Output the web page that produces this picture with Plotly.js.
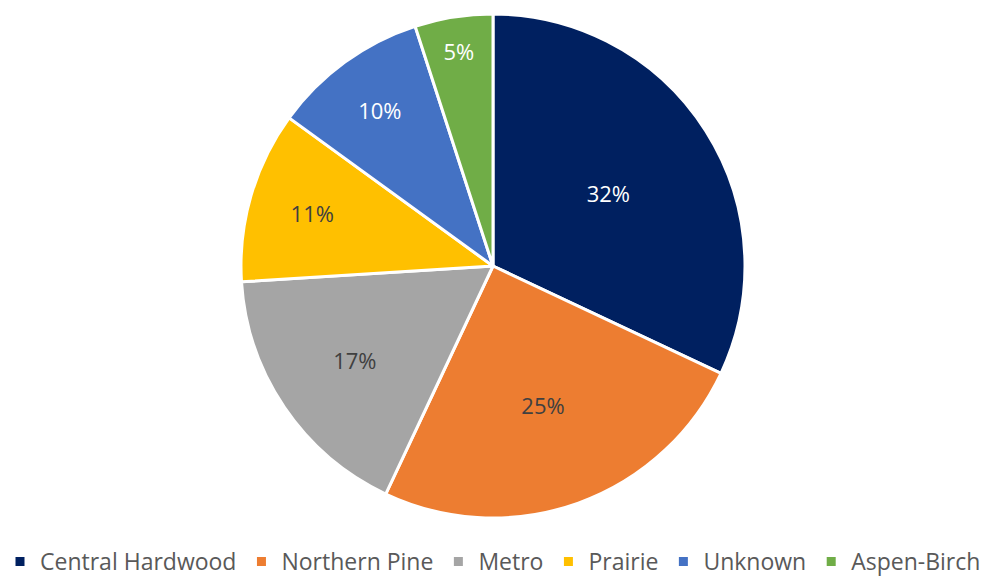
<!DOCTYPE html>
<html>
<head>
<meta charset="utf-8">
<script src="https://cdn.plot.ly/plotly-3.0.1.min.js"></script>
<style>html,body{margin:0;padding:0;background:#fff;overflow:hidden;}#chart{width:990px;height:583px;}</style>
</head>
<body>
<div id="chart"></div>
<script>
const categories = ["Central Hardwood", "Northern Pine", "Metro", "Prairie", "Unknown", "Aspen-Birch"];
const shares = [32, 25, 17, 11, 10, 5];
const sliceColors = ["#002060", "#ED7D31", "#A5A5A5", "#FFC000", "#4472C4", "#70AD47"];
const labelColors = ["#FFFFFF", "#404040", "#404040", "#404040", "#FFFFFF", "#FFFFFF"];

const trace = {
  type: "pie",
  labels: categories,
  values: shares,
  sort: false,
  direction: "clockwise",
  rotation: 0,
  textinfo: "percent",
  texttemplate: "%{percent:.0%}",
  textposition: "inside",
  insidetextorientation: "horizontal",
  textfont: {family: "Open Sans, sans-serif", size: 22, color: labelColors},
  marker: {colors: sliceColors, line: {color: "#FFFFFF", width: 3}},
  hoverinfo: "none",
  domain: {x: [0, 1], y: [0, 1]}
};

const layout = {
  width: 990,
  height: 583,
  margin: {l: 0, r: 4, t: 14, b: 65},
  paper_bgcolor: "#FFFFFF",
  showlegend: true,
  legend: {
    orientation: "h",
    x: 0.5, xanchor: "center",
    yref: "container", y: 0.0, yanchor: "bottom",
    font: {family: "Open Sans, sans-serif", size: 23, color: "#595959"},
    traceorder: "normal"
  }
};

Plotly.newPlot("chart", [trace], layout, {staticPlot: true, displayModeBar: false});
</script>
</body>
</html>
